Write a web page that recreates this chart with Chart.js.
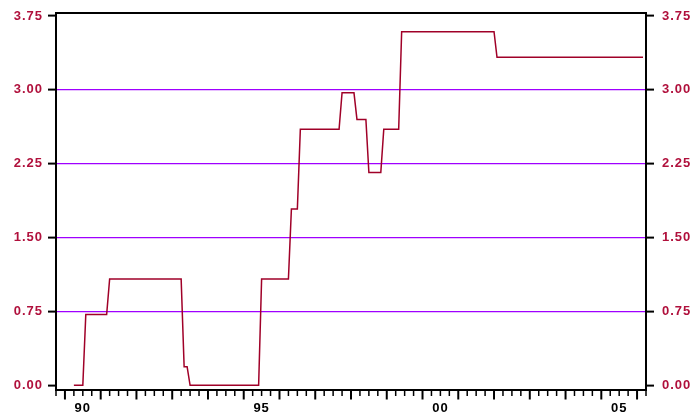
<!DOCTYPE html>
<html>
<head>
<meta charset="utf-8">
<script src="https://cdn.jsdelivr.net/npm/chart.js@4.4.1/dist/chart.umd.min.js"></script>
<style>
  html, body { margin: 0; padding: 0; background: #fff; }
  canvas { display: block; }
</style>
</head>
<body>
<canvas id="chart" width="694" height="412"></canvas>
<script>
// ================= DATA =================
// turning points of the monthly series, the line runs straight between them
const months = ["1990-04", "1990-07", "1990-08", "1991-03", "1991-04", "1993-04", "1993-05",
    "1993-06", "1993-07", "1995-06", "1995-07", "1996-04", "1996-05", "1996-07", "1996-08",
    "1997-09", "1997-10", "1998-02", "1998-03", "1998-06", "1998-07", "1998-11", "1998-12",
    "1999-05", "1999-06", "2002-01", "2002-02", "2006-03"];
const values = [0, 0, 0.72, 0.72, 1.08, 1.08, 0.19, 0.19, 0, 0, 1.08, 1.08, 1.79, 1.79, 2.60,
    2.60, 2.97, 2.97, 2.70, 2.70, 2.16, 2.16, 2.60, 2.60, 3.59, 3.59, 3.33, 3.33];
const yTicks = [0, 0.75, 1.5, 2.25, 3.0, 3.75];
const xLabels = ["90", "95", "00", "05"];
const xLabelYears = [1990, 1995, 2000, 2005];

const LINE = "#a00028";
const LABEL = "#b0103c";
const GRID = "#9f00ff";
const FONT = { family: "'Liberation Sans', Arial, sans-serif", size: 13, weight: "bold" };

const toYear = s => {
    const [y, m] = s.split("-").map(Number);
    return y + (m - 1) / 12;
};

// ================= PLUGINS =================
const spacing = {
    id: "spacing",
    beforeUpdate(chart) { chart.ctx.letterSpacing = "1px"; },
    beforeDraw(chart) { chart.ctx.letterSpacing = "1px"; }
};

const frame = {
    id: "frame",
    afterDraw(chart) {
        const { ctx, chartArea: a, scales: { x } } = chart;
        ctx.save();
        ctx.strokeStyle = "#000";
        // quarter ticks under the time axis, longer ones at each January
        for (let q = Math.ceil(x.min * 4); q <= Math.floor(x.max * 4); q++) {
            const px = x.getPixelForValue(q / 4);
            const major = q % 4 === 0;
            ctx.lineWidth = major ? 2 : 1.5;
            ctx.beginPath();
            ctx.moveTo(px, a.bottom);
            ctx.lineTo(px, a.bottom + (major ? 9.5 : 6));
            ctx.stroke();
        }
        ctx.lineWidth = 2;
        ctx.strokeRect(a.left, a.top, a.right - a.left, a.bottom - a.top);
        ctx.restore();
    }
};

// ================= CHART =================
const yScale = (position, padding, width) => ({
    type: "linear",
    position,
    min: -0.047,
    max: 3.78,
    afterBuildTicks: s => { s.ticks = yTicks.map(v => ({ value: v })); },
    afterFit: s => { s.width = width; s.paddingTop = 0; s.paddingBottom = 0; },
    border: { display: false },
    grid: {
        drawOnChartArea: position === "left",
        color: c => (c.tick && c.tick.value > 0 && c.tick.value < 3.75) ? GRID : "rgba(0,0,0,0)",
        lineWidth: 1.2,
        tickColor: "#000",
        tickWidth: 2,
        tickLength: 8
    },
    ticks: {
        color: LABEL,
        font: FONT,
        padding,
        callback: v => v.toFixed(2)
    }
});

new Chart(document.getElementById("chart"), {
    type: "line",
    data: {
        datasets: [{
            data: months.map((m, i) => ({ x: toYear(m), y: values[i] })),
            borderColor: LINE,
            borderWidth: 1.5,
            pointRadius: 0,
            tension: 0,
            fill: false
        }]
    },
    options: {
        responsive: false,
        animation: false,
        devicePixelRatio: 1,
        events: [],
        layout: { padding: { top: 13, left: 0, right: 0, bottom: 0 } },
        plugins: { legend: { display: false }, tooltip: { enabled: false } },
        scales: {
            x: {
                type: "linear",
                min: 1989.75,
                max: 2006.25,
                afterBuildTicks: s => { s.ticks = xLabelYears.map(y => ({ value: y + 0.5 })); },
                afterFit: s => { s.height = 22; s.paddingLeft = 0; s.paddingRight = 0; },
                border: { display: false },
                grid: { display: false },
                ticks: {
                    color: "#000",
                    font: FONT,
                    padding: 3,
                    maxRotation: 0,
                    autoSkip: false,
                    callback: (v, i) => xLabels[i]
                }
            },
            y: yScale("left", 5, 56),
            y2: yScale("right", 8, 48)
        }
    },
    plugins: [spacing, frame]
});
</script>
</body>
</html>
